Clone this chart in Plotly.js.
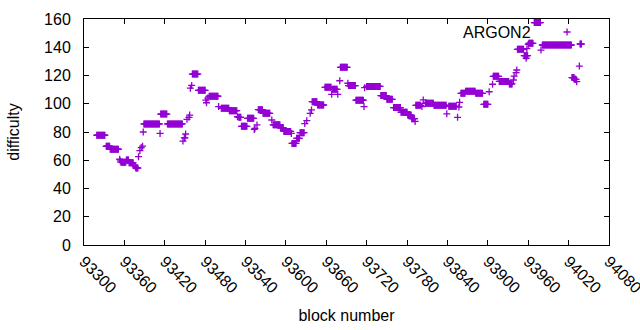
<!DOCTYPE html>
<html>
<head>
<meta charset="utf-8">
<script src="https://cdn.plot.ly/plotly-3.0.1.min.js"></script>
<style>html,body{margin:0;padding:0;background:#fff;}#chart{width:640px;height:330px;}</style>
</head>
<body>
<div id="chart"></div>
<script>
// Runs of consecutive blocks sharing one difficulty value (start block, end block, difficulty)
var runStart = [93319,93333,93339,93353,93354,93355,93363,93367,93374,93376,93377,93381,93383,93385,93387,93388,93389,93413,93414,93424,93447,93449,93451,93453,93456,93457,93458,93460,93461,93470,93481,93482,93484,93486,93500,93504,93516,93528,93530,93534,93543,93553,93554,93557,93559,93566,93579,93581,93592,93597,93608,93609,93616,93621,93628,93631,93636,93638,93639,93647,93658,93668,93669,93677,93680,93681,93692,93693,93704,93716,93717,93720,93741,93750,93760,93771,93781,93787,93792,93793,93802,93804,93807,93820,93839,93842,93855,93857,93858,93860,93867,93882,93894,93902,93907,93908,93917,93932,93938,93939,93942,93943,93944,93954,93957,93958,93960,93961,93969,93979,93981,93982,94025,94029,94032,94036,94037];
var runEnd   = [93331,93338,93351,93353,93354,93362,93366,93373,93374,93376,93380,93381,93383,93385,93387,93388,93412,93413,93423,93446,93447,93450,93451,93453,93456,93457,93458,93460,93469,93480,93481,93482,93484,93499,93500,93515,93527,93528,93533,93542,93552,93553,93554,93557,93565,93576,93579,93591,93596,93607,93608,93615,93620,93627,93628,93631,93636,93638,93646,93656,93667,93668,93676,93677,93680,93691,93692,93703,93715,93716,93717,93740,93749,93758,93770,93780,93786,93791,93792,93800,93802,93804,93819,93838,93839,93853,93855,93857,93858,93866,93881,93892,93900,93902,93907,93916,93931,93936,93938,93939,93942,93943,93953,93959,93957,93958,93960,93967,93978,93979,93981,94024,94028,94031,94032,94036,94039];
var runDiff  = [77.7,69.9,67.8,60.7,59.5,58.5,60.2,58.2,56.5,55.5,54.5,62.5,66.8,69.0,70.0,80.0,85.7,79.0,92.7,85.7,73.6,75.8,78.6,89.0,90.4,92.0,111.0,113.0,121.0,109.5,102.6,100.7,104.0,105.3,98.0,96.8,95.1,90.8,90.4,84.0,89.7,81.8,82.6,85.0,95.8,93.2,88.5,85.1,83.0,80.4,79.0,71.9,75.5,79.5,86.0,88.0,93.2,95.6,101.5,99.1,111.6,106.7,110.2,106.7,116.3,125.8,114.5,112.9,102.5,98.0,111.4,112.3,105.8,103.1,97.3,94.0,92.0,89.4,87.5,98.9,98.0,102.7,100.3,98.9,92.9,98.2,90.4,97.7,101.0,107.4,108.8,107.4,99.6,108.5,113.8,119.4,115.8,114.0,116.8,119.6,122.0,123.9,138.5,134.0,132.2,139.0,142.0,142.8,157.5,138.0,141.6,141.6,118.5,117.3,115.6,126.7,142.3];

var seriesName = 'ARGON2';
var xTickStart = 93300, xTickEnd = 94080, xTickStep = 60;
var yTickStep = 20, yMax = 160;

var blocks = [], diffs = [];
for (var i = 0; i < runStart.length; i++) {
  for (var b = runStart[i]; b <= runEnd[i]; b++) { blocks.push(b); diffs.push(runDiff[i]); }
}

var trace = {
  x: blocks, y: diffs, type: 'scatter', mode: 'markers', name: '',
  marker: {symbol: 'cross-thin', size: 5, color: '#9400d3', line: {color: '#9400d3', width: 1.3}},
  hoverinfo: 'x+y'
};

var layout = {
  width: 640, height: 330,
  margin: {l: 84, r: 31, t: 19, b: 85},
  paper_bgcolor: '#fff', plot_bgcolor: '#fff',
  font: {family: 'Liberation Sans, Arial, sans-serif', size: 16, color: '#000'},
  xaxis: {range: [xTickStart, xTickEnd], tick0: xTickStart, dtick: xTickStep, tickangle: 45,
    tickformat: 'd', ticklabeloverflow: 'allow',
    ticks: 'inside', ticklen: 5, tickcolor: '#000', showline: true, mirror: 'ticks',
    linecolor: '#000', linewidth: 1, showgrid: false, zeroline: false,
    title: {text: 'block number', font: {size: 16}, standoff: 14}},
  yaxis: {range: [0, yMax], dtick: yTickStep, ticks: 'inside', ticklen: 5, tickcolor: '#000',
    showline: true, mirror: 'ticks', linecolor: '#000', linewidth: 1, showgrid: false,
    zeroline: false, ticklabelstandoff: 9, title: {text: 'difficulty', font: {size: 16}, standoff: 20}},
  showlegend: true,
  legend: {x: 0.882, y: 0.942, xanchor: 'left', yanchor: 'middle', bgcolor: 'rgba(0,0,0,0)',
    font: {size: 16}},
  annotations: [{text: seriesName, xref: 'paper', yref: 'paper', x: 0.855, y: 0.942,
    xanchor: 'right', yanchor: 'middle', showarrow: false, font: {size: 16}}]
};

Plotly.newPlot('chart', [trace], layout, {displayModeBar: false, staticPlot: true});
</script>
</body>
</html>
